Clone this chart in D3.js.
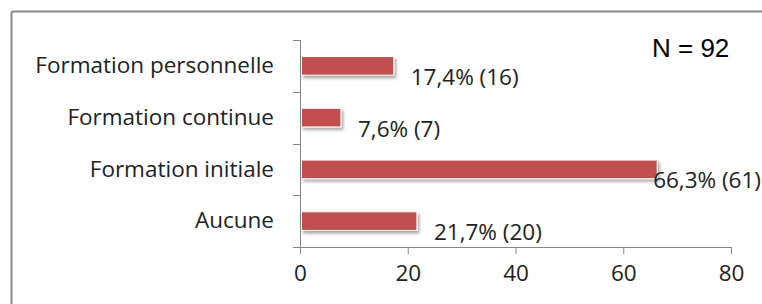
<!DOCTYPE html>
<html>
<head>
<meta charset="utf-8">
<script src="https://cdn.jsdelivr.net/npm/d3@7"></script>
<style>
  body { margin: 0; background: #fff; }
  svg { display: block; }
</style>
</head>
<body>
<svg id="chart" width="762" height="304"></svg>
<script>
// donnees
var categories = ["Formation personnelle", "Formation continue", "Formation initiale", "Aucune"];
var percents = [17.4, 7.6, 66.3, 21.7];
var counts = [16, 7, 61, 20];
var xTicks = [0, 20, 40, 60, 80];
var total = 92;

var data = [];
for (var i = 0 ; i < categories.length ; i++){
  data.push({name: categories[i], value: percents[i], n: counts[i]});
}

var svg = d3.select("#chart"),
  W = 762, H = 304,
  margin = {top: 40, right: 31, bottom: 57, left: 300},
  width = W - margin.left - margin.right,
  height = H - margin.top - margin.bottom;

var labelFont = "'Open Sans', Carlito, Calibri, sans-serif";
var labelSize = "22.5px";
var axisColor = "#868686";
var textColor = "#222";

// cadre exterieur (coupe a droite et en bas)
svg.append("rect")
  .attr("x", 11.5).attr("y", 11.5)
  .attr("width", 900).attr("height", 500)
  .attr("rx", 2)
  .attr("fill", "none")
  .attr("stroke", "#8a8a8a")
  .attr("stroke-width", 2);

var defs = svg.append("defs");
var f = defs.append("filter").attr("id", "shadow")
  .attr("x", "-5%").attr("y", "-30%").attr("width", "115%").attr("height", "180%");
f.append("feDropShadow")
  .attr("dx", 2).attr("dy", 2.5)
  .attr("stdDeviation", 1.5)
  .attr("flood-color", "#000")
  .attr("flood-opacity", 0.35);

var g = svg.append("g").attr("transform", "translate(" + margin.left + "," + margin.top + ")");

var x = d3.scaleLinear()
  .domain([0, 80])
  .range([0, width]);

var y = d3.scaleBand()
  .domain(categories)
  .range([0, height]);

var barH = y.bandwidth() * 0.36;

// axe des x
var xAxis = g.append("g")
  .attr("transform", "translate(0," + height + ")")
  .call(d3.axisBottom(x).tickValues(xTicks).tickSize(7).tickPadding(9));
xAxis.select(".domain").attr("d", "M-7,0.5H" + width);

// axe des y (graduations entre les categories)
var yAxis = g.append("g")
  .call(d3.axisLeft(y).tickSize(0).tickPadding(26));
yAxis.select(".domain").remove();

var sep = d3.range(categories.length + 1).map(function(i){ return i * y.step(); });
g.append("g").selectAll("line")
  .data(sep)
  .enter()
  .append("line")
    .attr("x1", -7).attr("x2", 0)
    .attr("y1", function(d){ return Math.round(d) + 0.5; })
    .attr("y2", function(d){ return Math.round(d) + 0.5; })
    .attr("stroke", axisColor);
g.append("line")
  .attr("x1", 0.5).attr("x2", 0.5)
  .attr("y1", 0).attr("y2", height + 7)
  .attr("stroke", axisColor);

[xAxis, yAxis].forEach(function(ax){
  ax.selectAll("line").attr("stroke", axisColor);
  ax.select(".domain").attr("stroke", axisColor);
  ax.selectAll("text")
    .attr("fill", textColor)
    .style("font-family", labelFont)
    .style("font-size", labelSize);
});
xAxis.selectAll("text").attr("dy", "0.78em");
yAxis.selectAll("text").attr("dy", "0.32em");

// barres
g.selectAll(".bar")
  .data(data)
  .enter()
  .append("rect")
    .attr("class", "bar")
    .attr("x", 1.5)
    .attr("y", function(d){ return y(d.name) + y.bandwidth() / 2 - barH / 2; })
    .attr("width", function(d){ return x(d.value) - 1.5; })
    .attr("height", barH)
    .attr("fill", "#c0504d")
    .attr("stroke", "#fff")
    .attr("stroke-width", 1)
    .attr("filter", "url(#shadow)");

// etiquettes de valeurs
var lab = g.selectAll(".lab")
  .data(data)
  .enter()
  .append("text")
    .attr("class", "lab")
    .attr("y", function(d){ return y(d.name) + y.bandwidth() / 2 + 19; })
    .attr("fill", textColor)
    .style("font-family", labelFont)
    .style("font-size", labelSize)
    .text(function(d){ return String(d.value).replace(".", ",") + "% (" + d.n + ")"; });

var maxRight = W - margin.left - 1;
lab.attr("x", function(d){
  var w = this.getComputedTextLength();
  return Math.min(x(d.value) + 17, maxRight - w);
});

svg.append("text")
  .attr("x", 652)
  .attr("y", 57)
  .attr("fill", "#000")
  .style("font-family", "'Liberation Sans', Arial, sans-serif")
  .style("font-size", "26px")
  .text("N = " + total);
</script>
</body>
</html>
